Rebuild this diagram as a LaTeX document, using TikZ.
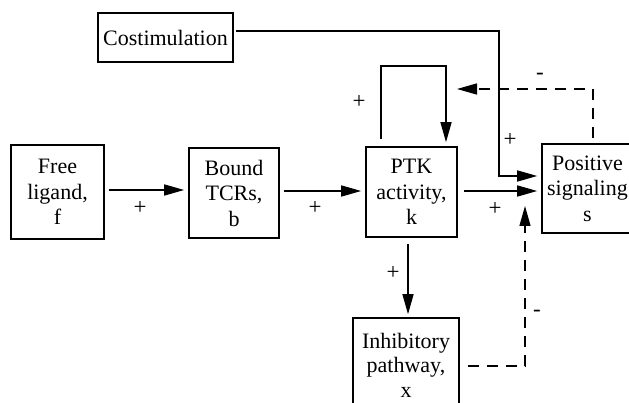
\documentclass[tikz,border=0pt]{standalone}
\usepackage{fontspec}
\setmainfont{Liberation Serif}
\usetikzlibrary{arrows.meta}
\begin{document}
\begin{tikzpicture}[x=1pt,y=-1pt,
  block/.style={draw, line width=1.6pt, inner sep=0pt, align=center,
    font=\fontsize{22}{25.5}\selectfont},
  link/.style={line width=1.4pt, -{Triangle[length=20pt,width=11pt]}},
  dashlink/.style={link, dash pattern=on 11pt off 8pt},
  sign/.style={inner sep=0pt, font=\fontsize{23}{25}\selectfont}]
\useasboundingbox (0,0) rectangle (629,403);
\clip (0,0) rectangle (629,403);
\fill[white] (0,0) rectangle (629,403);

% blocks
\node[block, minimum width=135pt, minimum height=49pt] (cost) at (165.5,37.5) {Costimulation};
\node[block, minimum width=93pt, minimum height=94pt] (free) at (57.5,192) {Free\\ligand,\\f};
\node[block, minimum width=90pt, minimum height=90pt] (bound) at (234,193) {Bound\\TCRs,\\b};
\node[block, minimum width=91pt, minimum height=90pt] (ptk) at (411.5,192) {PTK\\activity,\\k};
\node[block, minimum width=91pt, minimum height=89pt] (pos) at (587.5,188.5) {Positive\\signaling\\s};
\node[block, minimum width=106pt, minimum height=94pt,
  font=\fontsize{22}{24.5}\selectfont] (inh) at (406,365) {Inhibitory\\pathway,\\x};

% routing points
\coordinate (rowA) at (0,190);
\coordinate (rowB) at (0,191);
\coordinate (loopL) at (381,66);
\coordinate (loopR) at (446,66);
\coordinate (cA) at (499,31);
\coordinate (cB) at (499,176);
\coordinate (dA) at (593,89);
\coordinate (dB) at (525,366);
\coordinate (dC) at (525,206);
\coordinate (down) at (408,0);

% forward chain
\draw[link, shorten <=4pt, shorten >=4pt] (free.east |- rowA) -- (bound.west |- rowA);
\draw[link, shorten <=4pt, shorten >=4pt] (bound.east |- rowB) -- (ptk.west |- rowB);
\draw[link, shorten <=6pt, shorten >=4pt] (ptk.east |- rowB) -- (pos.west |- rowB);

% PTK self-activation loop
\draw[link, shorten <=7pt, shorten >=4pt] (loopL |- ptk.north) -- (loopL) -- (loopR) -- (loopR |- ptk.north);

% costimulation input
\draw[link, shorten <=2pt, shorten >=4pt] (cost.east |- cA) -- (cA) -- (cB) -- (pos.west |- cB);

% negative feedback from positive signaling
\draw[dashlink, shorten <=5pt, shorten >=11pt] (pos.north -| dA) -- (dA) -- (loopR |- dA);

% PTK drives inhibitory pathway
\draw[link, shorten <=6pt, shorten >=3pt] (ptk.south -| down) -- (inh.north -| down);

% inhibition of positive signaling
\draw[dashlink, shorten <=8pt] (inh.east |- dB) -- (dB) -- (dC);

% signs
\node[sign] (s1) at (140,208) {+};
\node[sign] (s2) at (315,208) {+};
\node[sign] (s3) at (495,209) {+};
\node[sign] (s4) at (359,102) {+};
\node[sign] (s5) at (510,140) {+};
\node[sign] (s6) at (393,273) {+};
\node[sign] (m1) at (540,76) {-};
\node[sign] (m2) at (537,313) {-};
\end{tikzpicture}
\end{document}
